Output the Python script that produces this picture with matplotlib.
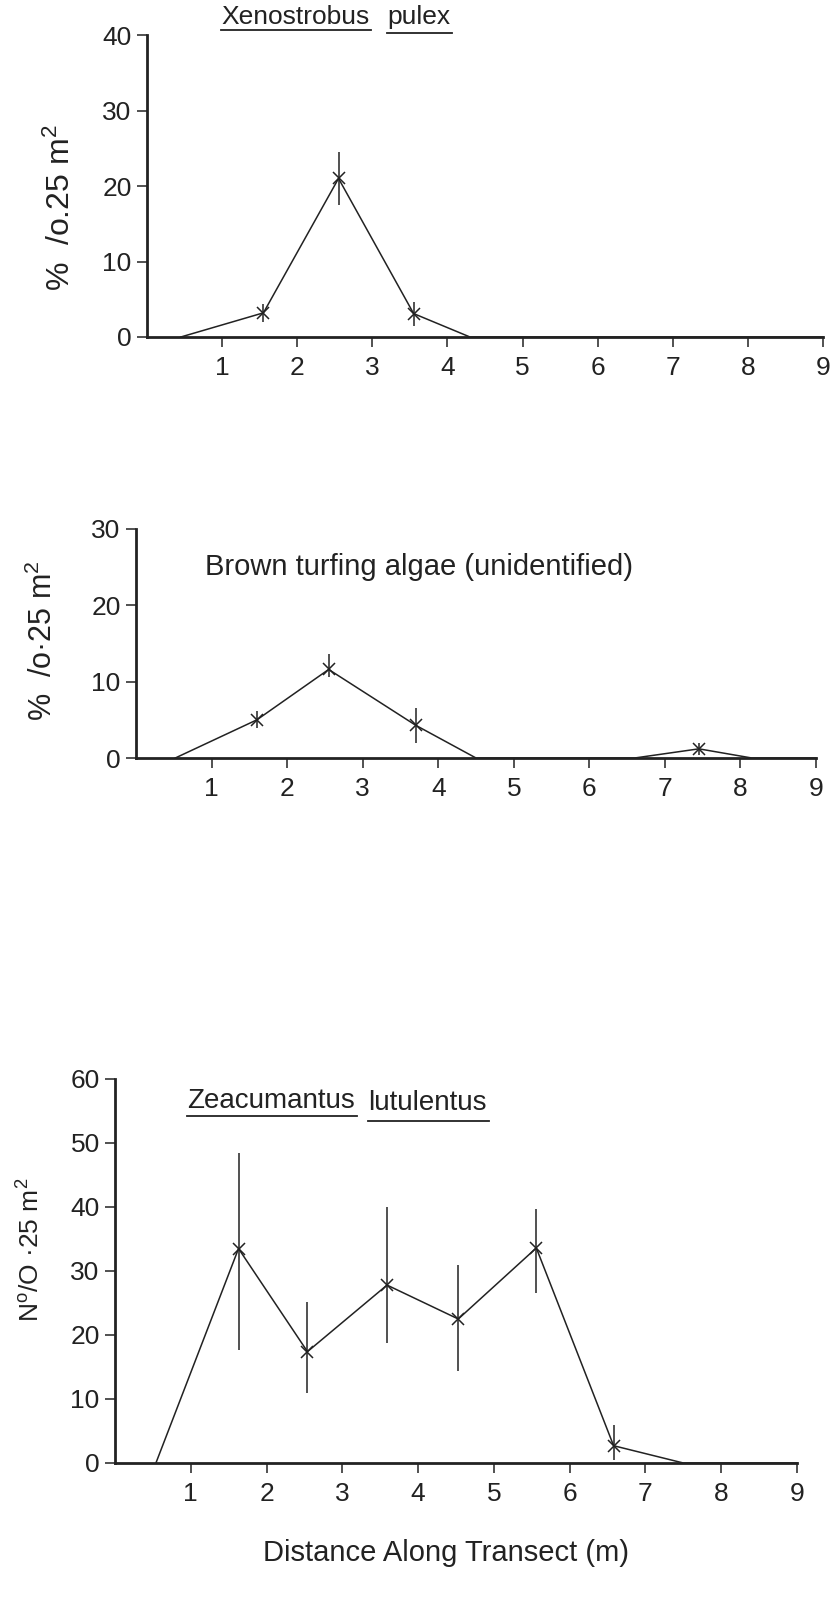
import matplotlib
matplotlib.use("Agg")
import numpy as np
import matplotlib.pyplot as plt
from matplotlib.lines import Line2D

plt.rcParams['font.family'] = ['Liberation Sans', 'DejaVu Sans']
plt.rcParams['mathtext.fontset'] = 'custom'
plt.rcParams['mathtext.rm'] = 'Liberation Sans'
plt.rcParams['mathtext.it'] = 'Liberation Sans:italic'

INK = '#222222'

# distance along transect (m) and cover / counts per quadrat
xp_x = [0.45, 1.55, 2.55, 3.55, 4.3, 9.0]
xp_y = [0, 3.2, 21.0, 3.1, 0, 0]
xp_err = [0, 1.2, 3.5, 1.6, 0, 0]

bt_x = [0.52, 1.6, 2.55, 3.7, 4.5, 6.6, 7.45, 8.15, 9.0]
bt_y = [0, 5.0, 11.6, 4.3, 0, 0, 1.2, 0, 0]
bt_err_lo = [0, 1.1, 1.0, 2.3, 0, 0, 0.8, 0, 0]
bt_err_hi = [0, 1.1, 2.0, 2.3, 0, 0, 0.8, 0, 0]

zl_x = [0.54, 1.63, 2.54, 3.59, 4.53, 5.56, 6.58, 7.5, 9.0]
zl_y = [0, 33.5, 17.4, 27.8, 22.5, 33.6, 2.7, 0, 0]
zl_err_lo = [0, 15.8, 6.4, 9.0, 8.1, 7.1, 2.2, 0, 0]
zl_err_hi = [0, 15.0, 7.7, 12.2, 8.5, 6.1, 3.2, 0, 0]

x_ticks = [1, 2, 3, 4, 5, 6, 7, 8, 9]

W, H = 830, 1600
fig = plt.figure(figsize=(W / 100, H / 100), dpi=100)


def px_axes(x0, x9, y0, ytop):
    # axes box given in pixels measured from the top-left corner
    return fig.add_axes([x0 / W, 1 - y0 / H, (x9 - x0) / W, (y0 - ytop) / H])


def draw_panel(ax, x, y, lo, hi, ymax, ystep):
    ax.plot(x, y, '-', color=INK, lw=1.1, clip_on=False, zorder=3)
    x = np.asarray(x)
    y = np.asarray(y)
    lo = np.asarray(lo)
    hi = np.asarray(hi)
    m = (lo > 0) | (hi > 0)
    ax.errorbar(x[m], y[m], yerr=[lo[m], hi[m]], fmt='none', ecolor=INK,
                elinewidth=1.1, capsize=0, clip_on=False, zorder=3)
    ax.plot(x[m], y[m], 'x', color=INK, ms=9, mew=1.1, clip_on=False, zorder=4)

    ax.set_xlim(0, 9)
    ax.set_ylim(0, ymax)
    for s in ('top', 'right'):
        ax.spines[s].set_visible(False)
    for s in ('left', 'bottom'):
        ax.spines[s].set_linewidth(2.0)
        ax.spines[s].set_color(INK)
    ax.set_xticks(x_ticks)
    ax.set_yticks(np.arange(0, ymax + 1, ystep))
    ax.tick_params(axis='x', direction='out', length=7, width=1.1,
                   pad=7, labelsize=19, colors=INK)
    ax.tick_params(axis='y', direction='out', length=7, width=1.1,
                   pad=4, labelsize=19, colors=INK)
    ax.patch.set_visible(False)


def words(items, size):
    renderer = fig.canvas.get_renderer()
    for x, base, word, uline in items:
        t = fig.text(x / W, 1 - base / H, word, fontsize=size, color=INK,
                     ha='left', va='baseline')
        if uline is None:
            continue
        bb = t.get_window_extent(renderer)
        yl = H - uline
        fig.add_artist(Line2D([bb.x0, bb.x1 + 2], [yl, yl], color=INK,
                              lw=1.3, transform=None))


# Xenostrobus pulex
ax1 = px_axes(147, 823, 337, 35)
draw_panel(ax1, xp_x, xp_y, xp_err, xp_err, 40, 10)
fig.text(61 / W, 1 - 208 / H, '%  /o.25 m$^2$', rotation=90, fontsize=23,
         color=INK, ha='center', va='center')

# brown turfing algae
ax2 = px_axes(136, 816, 758, 529)
draw_panel(ax2, bt_x, bt_y, bt_err_lo, bt_err_hi, 30, 10)
fig.text(43 / W, 1 - 641 / H, '%  /o\u00b725 m$^2$', rotation=90, fontsize=22,
         color=INK, ha='center', va='center')

# Zeacumantus lutulentus
ax3 = px_axes(115, 797, 1463, 1079)
draw_panel(ax3, zl_x, zl_y, zl_err_lo, zl_err_hi, 60, 10)
fig.text(31 / W, 1 - 1250 / H, 'N$^{\\rm o}$/O \u00b725 m$^2$', rotation=90,
         fontsize=19, color=INK, ha='center', va='center')
fig.text(446 / W, 1 - 1553 / H, 'Distance Along Transect (m)', fontsize=21,
         color=INK, ha='center', va='center')

words([(221, 24, 'Xenostrobus', 30), (387, 24, 'pulex', 33)], 19)
words([(205, 575, 'Brown turfing algae (unidentified)', None)], 21)
words([(187, 1108, 'Zeacumantus', 1116), (368, 1110, 'lutulentus', 1121)], 20)

fig.savefig('out.png', dpi=100, facecolor='white')
